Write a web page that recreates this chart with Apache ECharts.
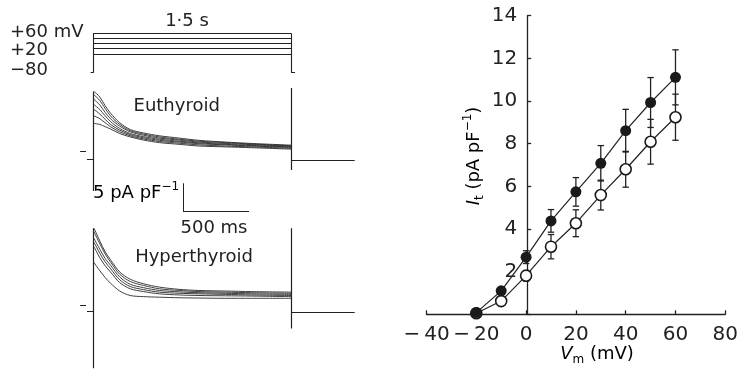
<!DOCTYPE html>
<html><head><meta charset="utf-8">
<script src="https://cdn.jsdelivr.net/npm/echarts@6/dist/echarts.min.js"></script>
<style>html,body{margin:0;padding:0;background:#fff}#c{width:741px;height:370px}</style>
</head><body><div id="c"></div>
<script>
// ---------- I-V plot data (right panel) ----------
const voltages = [-20, -10, 0, 10, 20, 30, 40, 50, 60];            // mV
const hyperMean = [0.08, 1.10, 2.68, 4.38, 5.74, 7.08, 8.61, 9.93, 11.11]; // filled circles
const hyperSem  = [0, 0, 0.30, 0.53, 0.67, 0.83, 1.00, 1.17, 1.29];
const euthMean  = [0.05, 0.62, 1.81, 3.17, 4.27, 5.59, 6.80, 8.09, 9.24]; // open circles
const euthSem   = [0, 0, 0.25, 0.57, 0.63, 0.70, 0.84, 1.05, 1.08];
const ivXTickValues = [-40, -20, 0, 20, 40, 60, 80];
const ivXTickLabels = ['\u2212\u200940', '\u2212\u200920', '0', '20', '40', '60', '80'];
const ivYTickValues = [2, 4, 6, 8, 10, 12, 14];

// ---------- voltage protocol ----------
const holdingPotential = -80;         // mV
const stepPotentials = [20, 30, 40, 50, 60]; // mV (drawn steps)
const pulseDuration = 1500;           // ms

// ---------- current traces (pA/pF vs ms) ----------
const traceTimes = [5, 25, 50, 90, 130, 200, 280, 380, 500, 650, 800, 1000, 1200, 1500];
const euthTraces = [
  [10.6, 10.2, 9.6, 8.1, 6.8, 5.1, 3.9, 3.3, 2.8, 2.4, 2.0, 1.7, 1.45, 1.15],
  [10.0, 9.6, 9.0, 7.6, 6.3, 4.8, 3.7, 3.1, 2.6, 2.2, 1.85, 1.6, 1.35, 1.05],
  [9.2, 8.8, 8.2, 6.9, 5.8, 4.5, 3.5, 2.9, 2.4, 2.05, 1.7, 1.45, 1.25, 0.95],
  [8.3, 7.9, 7.4, 6.3, 5.3, 4.1, 3.2, 2.65, 2.2, 1.85, 1.55, 1.3, 1.1, 0.85],
  [7.4, 7.1, 6.6, 5.7, 4.8, 3.8, 3.0, 2.45, 2.0, 1.7, 1.4, 1.2, 1.0, 0.75],
  [6.3, 6.1, 5.8, 5.1, 4.4, 3.5, 2.8, 2.25, 1.8, 1.5, 1.2, 1.0, 0.85, 0.6],
  [5.0, 4.9, 4.8, 4.4, 4.0, 3.2, 2.6, 2.05, 1.6, 1.3, 1.0, 0.85, 0.7, 0.45]
];
const hyperTraces = [
  [13.8, 12.8, 11.5, 9.6, 8.2, 6.0, 4.7, 3.9, 3.3, 2.9, 2.7, 2.6, 2.5, 2.4],
  [13.2, 12.2, 11.0, 9.2, 7.8, 5.6, 4.3, 3.6, 3.0, 2.7, 2.5, 2.4, 2.3, 2.2],
  [12.0, 11.1, 10.0, 8.4, 7.2, 5.1, 3.8, 3.2, 2.7, 2.45, 2.3, 2.2, 2.1, 2.0],
  [11.3, 10.4, 9.3, 7.8, 6.6, 4.6, 3.4, 2.85, 2.4, 2.2, 2.1, 2.0, 1.9, 1.8],
  [10.5, 9.6, 8.5, 7.1, 6.0, 4.1, 3.0, 2.5, 2.1, 1.9, 1.8, 1.75, 1.7, 1.6],
  [7.7, 7.0, 6.2, 5.0, 4.0, 2.6, 1.8, 1.6, 1.5, 1.4, 1.35, 1.3, 1.3, 1.3]
];
// capacitive transients [peak, trough], holding and tail currents (pA/pF)
const euthOnTransient = [10.6, -6.9];
const euthOffTransient = [11.2, -3.2];
const euthHolding = -1.34;
const euthTail = -1.5;
const hyperOnTransient = [13.8, -11.2];
const hyperOffTransient = [13.8, -4.1];
const hyperHolding = -1.06;
const hyperTail = -1.16;
const scaleBarCurrent = 5;   // pA/pF
const scaleBarTime = 500;    // ms

// ---------- chart ----------
const FONT = 'DejaVu Sans';
const INK = '#222';
const chart = echarts.init(document.getElementById('c'), null, {renderer: 'canvas'});

const LEFT = 78.8, WIDTH = 278.5; // left panels: t=-110..2000 ms
const tAxis = i => ({gridIndex: i, type: 'value', min: -110, max: 2000, show: false});

function seg(coords, w) {
  return {coords: coords, lineStyle: {width: w || 1.1}};
}
function linesSeries(xi, data, w) {
  return {type: 'lines', coordinateSystem: 'cartesian2d', xAxisIndex: xi, yAxisIndex: xi,
    polyline: false, silent: true, animation: false,
    lineStyle: {color: INK, width: w || 1.1, opacity: 1}, data: data};
}
function traceSeries(xi, tr) {
  return {type: 'line', xAxisIndex: xi, yAxisIndex: xi, showSymbol: false, symbol: 'none',
    smooth: 0.3, silent: true, animation: false,
    lineStyle: {color: '#2a2a2a', width: 0.9},
    data: traceTimes.map((t, i) => [t, tr[i]])};
}

const protocolSegs = stepPotentials.map(v => seg([[0, v], [pulseDuration, v]]))
  .concat([
    seg([[0, holdingPotential], [0, Math.max(...stepPotentials)]]),
    seg([[pulseDuration, holdingPotential], [pulseDuration, Math.max(...stepPotentials)]]),
    seg([[-20, holdingPotential], [0, holdingPotential]]),
    seg([[pulseDuration, holdingPotential], [pulseDuration + 28, holdingPotential]])
  ]);

function transientSegs(on, off, hold, tail) {
  return [
    seg([[0, on[0]], [0, on[1]]], 1.2),
    seg([[pulseDuration, off[0]], [pulseDuration, off[1]]], 1.2),
    seg([[-48, hold], [0, hold]], 1.2),
    seg([[pulseDuration, tail], [pulseDuration + 480, tail]], 1.2),
    seg([[-100, 0], [-55, 0]], 1.2)
  ];
}
const sbT0 = 680, sbI0 = -10.56;
const scaleBarSegs = [
  seg([[sbT0, sbI0], [sbT0, sbI0 + scaleBarCurrent]], 1),
  seg([[sbT0, sbI0], [sbT0 + scaleBarTime, sbI0]], 1)
];

function errRender(params, api) {
  const x = api.value(0), y = api.value(1), e = api.value(2);
  if (!e) return null;
  const top = api.coord([x, y + e]), bot = api.coord([x, y - e]);
  const hw = 3.2, st = {stroke: INK, lineWidth: 1.3};
  return {type: 'group', children: [
    {type: 'line', shape: {x1: top[0], y1: top[1], x2: bot[0], y2: bot[1]}, style: st},
    {type: 'line', shape: {x1: top[0] - hw, y1: top[1], x2: top[0] + hw, y2: top[1]}, style: st},
    {type: 'line', shape: {x1: bot[0] - hw, y1: bot[1], x2: bot[0] + hw, y2: bot[1]}, style: st}
  ]};
}

const series = [];
series.push(linesSeries(0, protocolSegs, 1.1));
euthTraces.forEach(tr => series.push(traceSeries(1, tr)));
series.push(linesSeries(1, transientSegs(euthOnTransient, euthOffTransient, euthHolding, euthTail).concat(scaleBarSegs)));
hyperTraces.forEach(tr => series.push(traceSeries(2, tr)));
series.push(linesSeries(2, transientSegs(hyperOnTransient, hyperOffTransient, hyperHolding, hyperTail)));

series.push({type: 'custom', xAxisIndex: 3, yAxisIndex: 3, renderItem: errRender, z: 2, silent: true,
  animation: false, data: voltages.map((v, i) => [v, euthMean[i], euthSem[i]])});
series.push({type: 'custom', xAxisIndex: 3, yAxisIndex: 3, renderItem: errRender, z: 2, silent: true,
  animation: false, data: voltages.map((v, i) => [v, hyperMean[i], hyperSem[i]])});
series.push({type: 'line', xAxisIndex: 3, yAxisIndex: 3, z: 4, animation: false, silent: true,
  symbol: 'circle', symbolSize: 11, showAllSymbol: true,
  lineStyle: {color: INK, width: 1.2},
  itemStyle: {color: '#fff', borderColor: '#1a1a1a', borderWidth: 1.6},
  data: voltages.map((v, i) => [v, euthMean[i]])});
series.push({type: 'line', xAxisIndex: 3, yAxisIndex: 3, z: 5, animation: false, silent: true,
  symbol: 'circle', symbolSize: 11, showAllSymbol: true,
  lineStyle: {color: INK, width: 1.2},
  itemStyle: {color: '#1a1a1a', borderColor: '#1a1a1a', borderWidth: 0},
  data: voltages.map((v, i) => [v, hyperMean[i]])});

const txt = (x, y, text, extra) => Object.assign({
  type: 'text', x: x, y: y, silent: true,
  style: Object.assign({text: text, font: '18px "' + FONT + '"', fill: INK,
    align: 'left', verticalAlign: 'middle'}, extra || {})
});

const richBase = {
  n: {fontFamily: FONT, fontSize: 18, lineHeight: 24, verticalAlign: 'middle', color: INK},
  i: {fontFamily: FONT, fontSize: 18, lineHeight: 24, fontStyle: 'italic', verticalAlign: 'middle', color: INK},
  sub: {fontFamily: FONT, fontSize: 12, lineHeight: 12, verticalAlign: 'bottom', color: INK},
  sup: {fontFamily: FONT, fontSize: 12, lineHeight: 12, verticalAlign: 'top', color: INK}
};

const IV_LEFT = 426.5, IV_WIDTH = 302;
const option = {
  backgroundColor: '#fff',
  animation: false,
  grid: [
    {left: LEFT, width: WIDTH, top: 33.3, height: 39.4},
    {left: LEFT, width: WIDTH, top: 83.54, height: 130.64},
    {left: LEFT, width: WIDTH, top: 227.18, height: 144.84},
    {left: IV_LEFT, width: IV_WIDTH, top: 15.7, height: 298.6}
  ],
  xAxis: [tAxis(0), tAxis(1), tAxis(2), {
    gridIndex: 3, type: 'value', min: -40, max: 80, interval: 20,
    axisLine: {show: true, onZero: false, lineStyle: {color: INK, width: 1.3}},
    axisTick: {show: true, inside: true, length: 4, lineStyle: {color: INK, width: 1.3}},
    splitLine: {show: false},
    axisLabel: {fontFamily: FONT, fontSize: 20, color: INK, margin: 10,
      formatter: v => { const k = ivXTickValues.indexOf(v); return k >= 0 ? ivXTickLabels[k] : ''; }}
  }],
  yAxis: [
    {gridIndex: 0, type: 'value', min: holdingPotential, max: 60, show: false,
      breaks: [{start: -75, end: 15, gap: 27}], breakArea: {show: false}},
    {gridIndex: 1, type: 'value', min: -11, max: 12, show: false},
    {gridIndex: 2, type: 'value', min: -11.5, max: 14, show: false},
    {gridIndex: 3, type: 'value', min: 0, max: 14, interval: 2, position: 'left',
      offset: -(0 - (-40)) * IV_WIDTH / 120,
      axisLine: {show: true, onZero: false, lineStyle: {color: INK, width: 1.3}},
      axisTick: {show: true, inside: true, length: 4, lineStyle: {color: INK, width: 1.3}},
      splitLine: {show: false},
      axisLabel: {fontFamily: FONT, fontSize: 20, color: INK, margin: 10,
        formatter: v => ivYTickValues.indexOf(v) >= 0 ? String(v) : ''}}
  ],
  series: series,
  graphic: [
    txt(10, 32, '+60 mV'),
    txt(10, 50.5, '+20'),
    txt(10, 70, '\u221280'),
    txt(187, 21, '1\u00b75 s', {align: 'center'}),
    txt(176.7, 106, 'Euthyroid', {align: 'center'}),
    txt(194, 257, 'Hyperthyroid', {align: 'center'}),
    txt(214, 228, '500 ms', {align: 'center'}),
    {type: 'text', x: 93, y: 193, silent: true, style: {
      text: '{n|5 pA pF}{sup|\u22121}', rich: richBase, align: 'left', verticalAlign: 'middle'}},
    {type: 'text', x: 597, y: 354, silent: true, style: {
      text: '{i|V}{sub|m}{n| (mV)}', rich: richBase, align: 'center', verticalAlign: 'middle'}},
    {type: 'text', x: 474, y: 156, rotation: Math.PI / 2, silent: true, style: {
      text: '{i|I}{sub|t}{n| (pA pF}{sup|\u22121}{n|)}', rich: richBase, align: 'center', verticalAlign: 'middle'}}
  ]
};
chart.setOption(option);
</script>
</body></html>
